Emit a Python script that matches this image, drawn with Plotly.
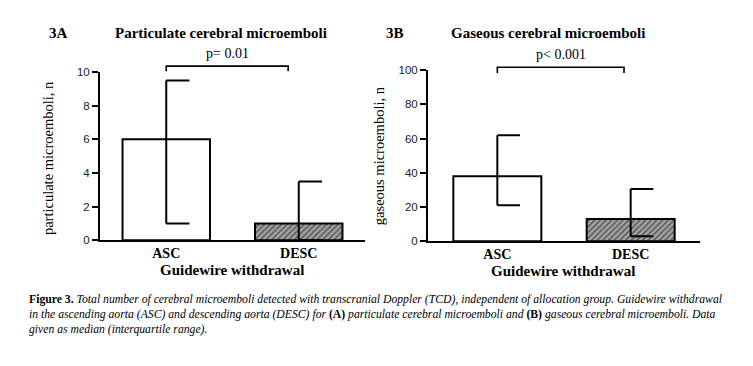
import plotly.graph_objects as go

W, H = 753, 366
OX, OY = 8, 8  # page body margin offset

categories = ["ASC", "DESC"]
# Panel A: particulate microemboli, median (IQR)
part_median = [6, 1]
part_q1 = [1, 0]
part_q3 = [9.5, 3.5]
# Panel B: gaseous microemboli, median (IQR)
gas_median = [38, 13]
gas_q1 = [21, 3]
gas_q3 = [62, 30.5]

p_text_a = "p= 0.01"
p_text_b = "p< 0.001"
ticks_a = [0, 2, 4, 6, 8, 10]
ticks_b = [0, 20, 40, 60, 80, 100]

SERIF = "Liberation Serif, Times New Roman, serif"
SANS = "Liberation Sans, Arial, sans-serif"

fig = go.Figure()

def px_x(p):
    return (p - OX) / W

def px_y(p):
    return 1 - (p - OY) / H

XR_A, YR_A = [-0.5, 1.5], [0, 10]
XR_B, YR_B = [-0.52, 1.52], [0, 100]

def add_panel(n, med, q1, q3, cap, xr, yr, bracket_end, b_top, b_bot, ptext, ptext_y):
    xa = "x" if n == 1 else "x2"
    ya = "y" if n == 1 else "y2"
    xs = list(range(len(categories)))
    fig.add_trace(go.Bar(
        x=xs, y=med, width=0.66, xaxis=xa, yaxis=ya,
        marker=dict(
            color=["white", "#a6a6a6"],
            line=dict(color="black", width=2),
            pattern=dict(shape=["", "/"], fgcolor="#111111", fgopacity=0.8,
                         size=4, solidity=0.4, fillmode="overlay"),
        ),
        showlegend=False, hoverinfo="skip",
    ))
    ex, ey = [], []
    for i in xs:
        ex += [i, i, None, i, i + cap, None, i, i + cap, None]
        ey += [q1[i], q3[i], None, q1[i], q1[i], None, q3[i], q3[i], None]
    fig.add_trace(go.Scatter(
        x=ex, y=ey, mode="lines", xaxis=xa, yaxis=ya,
        line=dict(color="black", width=2), showlegend=False, hoverinfo="skip",
        cliponaxis=False,
    ))
    # significance bracket (axis-domain fractions derived from data values)
    fx = lambda v: (v - xr[0]) / (xr[1] - xr[0])
    fy = lambda v: (v - yr[0]) / (yr[1] - yr[0])
    xd = "x domain" if n == 1 else "x2 domain"
    yd = "y domain" if n == 1 else "y2 domain"
    path = (f"M{fx(0)},{fy(b_bot)} L{fx(0)},{fy(b_top)} "
            f"L{fx(bracket_end)},{fy(b_top)} L{fx(bracket_end)},{fy(b_bot)}")
    fig.add_shape(type="path", path=path, xref=xd, yref=yd,
                  line=dict(color="black", width=1.6))
    fig.add_annotation(text=ptext, x=fx(bracket_end / 2), y=fy(ptext_y), xref=xd, yref=yd,
                       showarrow=False, yanchor="middle",
                       font=dict(family=SERIF, size=14, color="black"))

add_panel(1, part_median, part_q1, part_q3, 0.175, XR_A, YR_A, 0.92, 10.35, 10.05, p_text_a, 11.1)
add_panel(2, gas_median, gas_q1, gas_q3, 0.17, XR_B, YR_B, 0.95, 101.7, 98.3, p_text_b, 109)

axis_common = dict(
    showline=True, linecolor="black", linewidth=2, showgrid=False, zeroline=False,
)
fig.update_layout(
    width=W, height=H, margin=dict(l=0, r=0, t=0, b=0),
    paper_bgcolor="white", plot_bgcolor="white",
    xaxis=dict(domain=[px_x(100), px_x(365)], range=XR_A, anchor="y",
               tickvals=[0, 1], ticktext=[f"<b>{c}</b>" for c in categories],
               ticks="", tickfont=dict(family=SERIF, size=14, color="black"),
               ticklabelstandoff=-1, **axis_common),
    yaxis=dict(domain=[px_y(242), px_y(68)], range=YR_A, anchor="x",
               tickvals=ticks_a, ticks="outside", ticklen=6, tickwidth=2, tickcolor="black",
               tickfont=dict(family=SANS, size=11.5, color="#222222"), ticklabelstandoff=0,
               **axis_common),
    xaxis2=dict(domain=[px_x(428), px_x(700)], range=XR_B, anchor="y2",
                tickvals=[0, 1], ticktext=[f"<b>{c}</b>" for c in categories],
                ticks="", tickfont=dict(family=SERIF, size=14, color="black"),
                ticklabelstandoff=-1, **axis_common),
    yaxis2=dict(domain=[px_y(243), px_y(66)], range=YR_B, anchor="x2",
                tickvals=ticks_b, ticks="outside", ticklen=6, tickwidth=2, tickcolor="black",
                tickfont=dict(family=SANS, size=11.5, color="#222222"), ticklabelstandoff=0,
                **axis_common),
)

def ann(text, x, y, size, xanchor="center", angle=0, family=SERIF):
    fig.add_annotation(text=text, x=px_x(x), y=px_y(y), xref="paper", yref="paper",
                       xanchor=xanchor, yanchor="middle", showarrow=False,
                       textangle=angle, font=dict(family=family, size=size, color="black"))

ann("<b>3A</b>", 47, 28, 15, xanchor="left")
ann("<b>Particulate cerebral microemboli</b>", 221, 28, 15)
ann("<b>3B</b>", 384, 28, 15, xanchor="left")
ann("<b>Gaseous cerebral microemboli</b>", 548, 28, 15)
ann("particulate microemboli, n", 48, 157, 14.5, angle=-90)
ann("gaseous microemboli, n", 379, 155, 14.5, angle=-90)
ann("<b>Guidewire withdrawal</b>", 232, 273, 15)
ann("<b>Guidewire withdrawal</b>", 563, 274, 15)

cap1 = ("<b>Figure 3.</b> <i>Total number of cerebral microemboli detected with transcranial Doppler (TCD), "
        "independent of allocation group. Guidewire withdrawal</i>")
cap2 = ("<i>in the ascending aorta (ASC) and descending aorta (DESC) for</i> <b>(A)</b> "
        "<i>particulate cerebral microemboli and</i> <b>(B)</b> <i>gaseous cerebral microemboli. Data</i>")
cap3 = "<i>given as median (interquartile range).</i>"
ann(cap1, 27, 303, 11.7, xanchor="left")
ann(cap2, 27, 319, 11.7, xanchor="left")
ann(cap3, 27, 334, 11.7, xanchor="left")

fig.write_html("out.html")
